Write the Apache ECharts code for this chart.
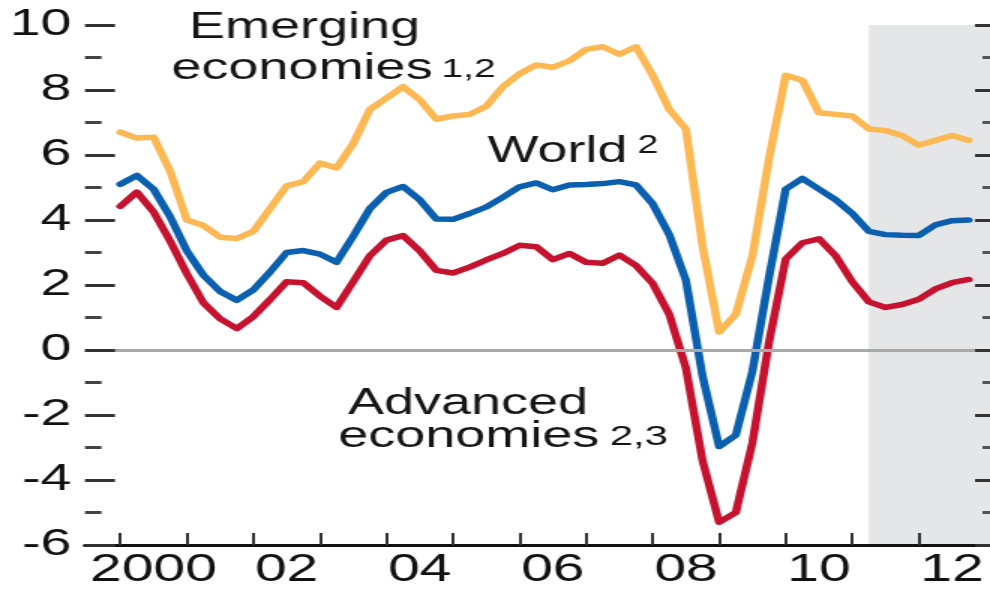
<!DOCTYPE html>
<html>
<head>
<meta charset="utf-8">
<script src="https://cdn.jsdelivr.net/npm/echarts@6/dist/echarts.min.js"></script>
<style>
  html, body { margin: 0; padding: 0; background: #ffffff; overflow: hidden; width: 990px; height: 590px; }
  #chart { width: 660px; height: 590px; transform: scaleX(1.5); transform-origin: 0 0; }
</style>
</head>
<body>
<div id="chart"></div>
<script>
// ---------------- data ----------------
const quarters = [];
for (let y = 2000; y <= 2012; y++) { for (let q = 1; q <= 4; q++) { quarters.push(y + 'Q' + q); } }

const emerging = [
  6.70, 6.52, 6.55, 5.50, 4.00, 3.83, 3.47, 3.43, 3.65, 4.35, 5.05, 5.18,
  5.75, 5.60, 6.35, 7.40, 7.75, 8.10, 7.70, 7.10, 7.20, 7.25, 7.50, 8.10,
  8.50, 8.77, 8.70, 8.90, 9.25, 9.33, 9.10, 9.33, 8.45, 7.40, 6.80, 3.20,
  0.55, 1.10, 2.90, 5.90, 8.45, 8.30, 7.30, 7.25, 7.20, 6.80, 6.75, 6.60,
  6.30, 6.45, 6.60, 6.45
];
const world = [
  5.10, 5.37, 4.95, 4.10, 3.05, 2.30, 1.80, 1.53, 1.85, 2.40, 3.00, 3.06,
  2.95, 2.70, 3.50, 4.35, 4.85, 5.03, 4.62, 4.03, 4.02, 4.20, 4.40, 4.70,
  5.02, 5.14, 4.93, 5.08, 5.09, 5.12, 5.18, 5.08, 4.50, 3.55, 2.15, -0.80,
  -2.97, -2.62, -0.65, 2.25, 4.95, 5.28, 4.95, 4.62, 4.20, 3.65, 3.55, 3.53,
  3.52, 3.85, 3.98, 4.00
];
const advanced = [
  4.42, 4.86, 4.25, 3.35, 2.35, 1.45, 0.96, 0.66, 1.03, 1.55, 2.10, 2.07,
  1.66, 1.31, 2.10, 2.90, 3.38, 3.52, 3.05, 2.45, 2.37, 2.55, 2.77, 2.97,
  3.22, 3.18, 2.78, 2.97, 2.70, 2.67, 2.92, 2.60, 2.05, 1.10, -0.55, -3.40,
  -5.30, -5.00, -2.85, 0.25, 2.80, 3.30, 3.42, 2.90, 2.10, 1.48, 1.31, 1.40,
  1.56, 1.88, 2.07, 2.17
];

const xTickYears = [2000, 2001, 2002, 2003, 2004, 2005, 2006, 2007, 2008, 2009, 2010, 2011, 2012];
const xLabelYears = [2000, 2002, 2004, 2006, 2008, 2010, 2012];
const xLabelText = ['2000', '02', '04', '06', '08', '10', '12'];
const yMin = -6, yMax = 10, yStep = 2;
const projectionStart = 2011.25;

// ---------------- helpers ----------------
const SX = 1.5; // horizontal stretch of the whole picture
const FONT = '"Liberation Sans", Arial, Helvetica, sans-serif';
function quarterToYear(label) {
  const y = +label.slice(0, 4), q = +label.slice(5);
  return y + (q - 1) / 4;
}
function pairs(values) { return values.map((v, i) => [quarterToYear(quarters[i]), v]); }

const xMin = 1999.47, xMax = 2013.07;

const chart = echarts.init(document.getElementById('chart'), null, { renderer: 'canvas' });

const lineSeries = (name, values, color) => ({
  name, type: 'line', data: pairs(values), showSymbol: false, symbol: 'none',
  smooth: false, z: 3,
  lineStyle: { color, width: 5.5, cap: 'round', join: 'round' }
});

const option = {
  animation: false,
  backgroundColor: '#ffffff',
  grid: { left: 85 / SX, right: 0, top: 25, bottom: 35 },
  xAxis: {
    type: 'value', min: xMin, max: xMax, z: 10,
    axisLine: { show: true, onZero: false, lineStyle: { color: '#111', width: 3 } },
    axisTick: { show: true, inside: true, length: 12, customValues: xTickYears, lineStyle: { color: '#333', width: 2 } },
    axisLabel: {
      customValues: xLabelYears.map(y => y + 0.5),
      formatter: v => xLabelText[xLabelYears.indexOf(Math.floor(v))],
      fontSize: 38, fontFamily: FONT, color: '#111', margin: 7
    },
    splitLine: { show: false }
  },
  yAxis: [
    {
      type: 'value', min: yMin, max: yMax, interval: yStep, z: 10,
      axisLine: { show: false, onZero: false },
      axisTick: { show: true, inside: true, length: 20, lineStyle: { color: '#333', width: 3 } },
      minorTick: { show: true, splitNumber: 2, length: 11, lineStyle: { color: '#444', width: 3 } },
      axisLabel: { fontSize: 37, fontFamily: FONT, color: '#111', margin: 9 },
      splitLine: { show: false }
    },
    {
      type: 'value', position: 'right', min: yMin, max: yMax, interval: yStep, z: 10,
      axisLine: { show: false, onZero: false },
      axisTick: { show: true, inside: true, length: 10, lineStyle: { color: '#333', width: 3 } },
      minorTick: { show: true, splitNumber: 2, length: 5, lineStyle: { color: '#555', width: 3 } },
      axisLabel: { show: false },
      splitLine: { show: false }
    }
  ],
  series: [
    {
      name: 'bg', type: 'line', data: [], z: 1, silent: true,
      markArea: {
        silent: true,
        itemStyle: { color: '#e5e6e8' },
        data: [[{ xAxis: projectionStart }, { xAxis: xMax }]]
      },
      markLine: {
        silent: true, symbol: 'none', animation: false,
        label: { show: false },
        lineStyle: { color: '#a9a9a9', width: 3, type: 'solid' },
        data: [{ yAxis: 0 }]
      }
    },
    lineSeries('Emerging economies', emerging, '#fcb852'),
    lineSeries('World', world, '#0a5fae'),
    lineSeries('Advanced economies', advanced, '#c5122f')
  ],
  graphic: [
    { type: 'text', x: 203, y: 28.5, style: { text: 'Emerging', fontSize: 36, fontFamily: FONT, fill: '#151515', align: 'center', verticalAlign: 'middle' } },
    { type: 'text', x: 114.3, y: 68.8, style: { text: 'economies', fontSize: 36, fontFamily: FONT, fill: '#151515', align: 'left', verticalAlign: 'middle' } },
    { type: 'text', x: 294.3, y: 70, style: { text: '1,2', fontSize: 26, fontFamily: FONT, fill: '#151515', align: 'left', verticalAlign: 'middle' } },
    { type: 'text', x: 325, y: 152, style: { text: 'World', fontSize: 36, fontFamily: FONT, fill: '#151515', align: 'left', verticalAlign: 'middle' } },
    { type: 'text', x: 425, y: 146.5, style: { text: '2', fontSize: 25, fontFamily: FONT, fill: '#151515', align: 'left', verticalAlign: 'middle' } },
    { type: 'text', x: 232, y: 403.8, style: { text: 'Advanced', fontSize: 36, fontFamily: FONT, fill: '#151515', align: 'left', verticalAlign: 'middle' } },
    { type: 'text', x: 225.5, y: 437, style: { text: 'economies', fontSize: 36, fontFamily: FONT, fill: '#151515', align: 'left', verticalAlign: 'middle' } },
    { type: 'text', x: 406.5, y: 437.5, style: { text: '2,3', fontSize: 28, fontFamily: FONT, fill: '#151515', align: 'left', verticalAlign: 'middle' } }
  ]
};
chart.setOption(option);
</script>
</body>
</html>
